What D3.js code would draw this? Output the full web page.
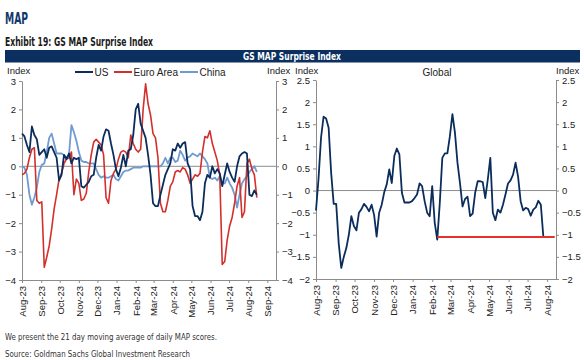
<!DOCTYPE html>
<html><head><meta charset="utf-8">
<script src="https://cdn.jsdelivr.net/npm/d3@7"></script>
<style>body{margin:0;background:#fff}svg{display:block}</style>
</head><body>
<svg id="c" width="584" height="360"></svg>
<script>
const dates = ["2023-08-01","2023-08-05","2023-08-09","2023-08-13","2023-08-17","2023-08-21","2023-08-25","2023-08-29",
"2023-09-02","2023-09-06","2023-09-10","2023-09-14","2023-09-18","2023-09-22","2023-09-26","2023-09-30",
"2023-10-04","2023-10-08","2023-10-12","2023-10-16","2023-10-20","2023-10-24","2023-10-28",
"2023-11-01","2023-11-05","2023-11-09","2023-11-13","2023-11-17","2023-11-21","2023-11-25","2023-11-29",
"2023-12-03","2023-12-07","2023-12-11","2023-12-15","2023-12-19","2023-12-23","2023-12-27","2023-12-31",
"2024-01-04","2024-01-08","2024-01-12","2024-01-16","2024-01-20","2024-01-24","2024-01-28",
"2024-02-01","2024-02-05","2024-02-09","2024-02-13","2024-02-17","2024-02-21","2024-02-25","2024-02-29",
"2024-03-04","2024-03-08","2024-03-12","2024-03-16","2024-03-20","2024-03-24","2024-03-28",
"2024-04-01","2024-04-05","2024-04-09","2024-04-13","2024-04-17","2024-04-21","2024-04-25","2024-04-29",
"2024-05-03","2024-05-07","2024-05-11","2024-05-15","2024-05-19","2024-05-23","2024-05-27","2024-05-31",
"2024-06-04","2024-06-08","2024-06-12","2024-06-16","2024-06-20","2024-06-24","2024-06-28",
"2024-07-02","2024-07-06","2024-07-10","2024-07-14","2024-07-18","2024-07-22","2024-07-26","2024-07-30",
"2024-08-03","2024-08-07","2024-08-11","2024-08-15"];

const us = [1.15,1.05,0.75,0.5,1.4,1.1,0.95,0.4,0.5,0.6,
0.3,0.65,0.7,0.5,0.3,-0.5,-0.3,0.4,0.25,0.45,
0.1,0.3,0.25,0.3,-0.7,-0.75,-0.65,-0.55,-0.35,-0.3,
0.3,0.75,0.55,1.05,1.3,1.25,0.8,0.4,-0.1,-0.35,
-0.05,0.4,0.0,0.55,0.6,1.1,2.0,2.2,1.5,1.25,
1.0,0.4,-0.3,-1.3,-1.4,-1.4,-1.0,-0.65,-0.3,-0.1,
0.1,0.6,0.55,0.8,0.65,0.8,0.85,0.1,-0.1,-1.4,
-1.75,-1.75,-1.9,-1.6,-0.6,-0.3,-0.4,0.0,-0.25,-0.1,
-0.25,-0.7,-0.3,0.1,-0.2,-0.4,-0.55,0.0,0.35,0.45,
0.5,0.45,-1.0,-1.05,-0.85,-1.0];

const euroArea = [-0.3,-0.25,-0.1,0.3,0.6,0.65,-1.2,-1.3,-1.25,-3.55,
-3.2,-2.8,-2.2,-1.5,-1.0,-0.45,-0.25,0.1,0.25,0.3,
0.5,-1.0,-0.45,-0.6,-1.2,-1.15,-0.95,-0.2,0.4,0.85,
0.95,0.85,0.75,0.4,-1.1,-1.3,-0.5,-0.25,-0.1,0.25,
0.5,0.55,0.5,0.3,1.1,0.8,0.6,0.5,0.6,2.0,
2.9,2.2,1.8,1.15,1.0,0.3,-1.3,-1.6,-1.6,-1.2,
-0.7,-0.55,-0.2,-0.15,-0.2,-0.05,-0.1,-0.3,-0.6,-0.45,
-0.3,-0.35,-0.25,0.5,1.05,1.0,1.25,0.8,0.5,0.2,
-0.3,-3.45,-3.35,-2.6,-2.1,-1.8,-1.3,-0.7,-0.4,-1.8,
-1.6,0.1,0.25,-0.1,-0.3,-1.1];

const china = [0.0,-0.05,-0.3,-1.0,-1.35,-1.1,-0.75,-0.2,0.05,0.1,
0.5,1.0,1.15,0.8,0.45,0.45,0.45,0.4,0.3,0.4,
1.45,1.2,0.9,0.5,0.2,0.15,0.15,0.1,0.1,0.1,
-0.1,-0.3,-0.4,-0.35,-0.4,-0.4,-0.35,-0.3,-0.45,-0.5,
-0.35,-0.2,-0.15,-0.15,-0.1,-0.05,-0.05,-0.05,-0.05,0.0,
0.0,0.0,0.0,0.0,0.0,0.0,0.0,0.1,0.3,0.1,
0.3,0.3,0.15,0.2,0.55,0.4,0.2,0.3,0.35,0.45,
0.4,0.35,0.45,0.35,0.25,0.1,-0.4,-0.45,-0.4,-0.5,
-0.35,-0.6,-0.6,-0.4,-0.6,-0.75,-1.0,-1.45,-1.0,-0.6,
-0.45,-0.35,-0.2,-0.1,0.0,-0.2];

const global = [-0.45,0.27,1.2,1.67,1.63,1.42,0.4,-0.3,-0.3,-1.2,
-1.75,-1.5,-1.3,-1.0,-0.58,-0.8,-0.9,-0.5,-0.42,-0.3,
-0.37,-0.47,-0.32,-0.55,-1.04,-0.5,-0.32,-0.04,0.14,0.48,
0.17,0.78,0.95,0.82,-0.05,-0.27,-0.27,-0.27,-0.24,-0.17,
-0.09,0.16,0.1,-0.24,-0.5,-0.58,0.1,-0.73,-1.11,-0.28,
0.74,0.84,0.84,1.23,1.73,1.31,0.63,0.17,-0.36,-0.19,
-0.14,-0.58,-0.52,-0.05,0.21,0.21,0.19,-0.17,0.25,0.74,
-0.5,-0.67,-0.43,-0.5,-0.32,-0.09,0.16,0.23,0.36,0.63,
0.31,-0.24,-0.45,-0.39,-0.42,-0.57,-0.43,-0.38,-0.23,-0.32,-1.05];

const thresholdDates = ["2024-02-09","2024-08-13"];
const thresholdValue = -1.05;

const leftTicks = [3,2,1,0,-1,-2,-3,-4];
const rightTicks = [2.5,2,1.5,1,0.5,0,-0.5,-1,-1.5,-2];
const legendNames = ["US","Euro Area","China"];

const NAVY = "#0b2d5c", RED = "#d3302c", LBLUE = "#6f9bd1", AXIS = "#8c8c8c";
const parse = d3.timeParse("%Y-%m-%d");
const fmt = d3.timeFormat("%b-%y");
const svg = d3.select("#c");
const NARROW = "'Liberation Sans Narrow','DejaVu Sans Condensed','Liberation Sans',sans-serif";
const SANS = "'Liberation Sans',Arial,sans-serif";

svg.append("rect").attr("width",584).attr("height",360).attr("fill","#fff");

// Headers
svg.append("text").attr("x",5).attr("y",24).text("MAP")
  .attr("font-family",NARROW).attr("font-weight","bold").attr("font-size",15).attr("fill","#12386b")
  .attr("textLength",23).attr("lengthAdjust","spacingAndGlyphs");
svg.append("text").attr("x",5).attr("y",46).text("Exhibit 19: GS MAP Surprise Index")
  .attr("font-family",NARROW).attr("font-weight","bold").attr("font-size",11.5).attr("fill","#1a1a1a")
  .attr("textLength",148).attr("lengthAdjust","spacingAndGlyphs");
svg.append("rect").attr("x",5).attr("y",50).attr("width",575).attr("height",12.5).attr("fill","#0b2f5f");
svg.append("text").attr("x",292).attr("y",59.8).attr("text-anchor","middle").text("GS MAP Surprise Index")
  .attr("font-family",NARROW).attr("font-weight","bold").attr("font-size",10.5).attr("fill","#fff")
  .attr("textLength",98).attr("lengthAdjust","spacingAndGlyphs");

// Footer
svg.append("text").attr("x",5).attr("y",340).text("We present the 21 day moving average of daily MAP scores.")
  .attr("font-family",NARROW).attr("font-size",9.5).attr("fill","#333")
  .attr("textLength",212).attr("lengthAdjust","spacingAndGlyphs");
svg.append("text").attr("x",5).attr("y",357).text("Source: Goldman Sachs Global Investment Research")
  .attr("font-family",NARROW).attr("font-size",9.5).attr("fill","#333")
  .attr("textLength",185).attr("lengthAdjust","spacingAndGlyphs");

function panel(opts){
  const {x0,x1,yTop,yBot,xDomain,yDomain,ticks,tickFmt,idxL,idxR} = opts;
  const x = d3.scaleTime().domain(xDomain).range([x0,x1]);
  const y = d3.scaleLinear().domain(yDomain).range([yBot,yTop]);
  const g = svg.append("g");
  g.append("line").attr("x1",x0).attr("x2",x1).attr("y1",y(0)).attr("y2",y(0))
    .attr("stroke",AXIS).attr("stroke-width",1);
  const ax = (sel)=>{sel.select(".domain").attr("stroke",AXIS);
    sel.selectAll(".tick line").attr("stroke",AXIS);
    sel.selectAll("text").attr("font-family",SANS).attr("font-size",9.5).attr("fill","#222");};
  g.append("g").attr("transform",`translate(${x0},0)`)
    .call(d3.axisLeft(y).tickValues(ticks).tickSize(3).tickSizeOuter(0).tickPadding(3).tickFormat(tickFmt)).call(ax);
  g.append("g").attr("transform",`translate(${x1},0)`)
    .call(d3.axisRight(y).tickValues(ticks).tickSize(3).tickSizeOuter(0).tickPadding(3).tickFormat(tickFmt)).call(ax);
  const months = d3.timeMonth.range(xDomain[0], d3.timeDay.offset(xDomain[1],1));
  const xa = g.append("g").attr("transform",`translate(0,${yBot})`)
    .call(d3.axisBottom(x).tickValues(months).tickSize(3).tickSizeOuter(0).tickFormat(fmt)).call(ax);
  xa.selectAll(".tick text").attr("transform","rotate(-90)").attr("text-anchor","end")
    .attr("x",-6).attr("y",0).attr("dy","0.35em");
  g.append("text").attr("x",idxL).attr("y",74).text("Index")
    .attr("font-family",SANS).attr("font-size",9.5).attr("fill","#222");
  g.append("text").attr("x",idxR).attr("y",74).text("Index")
    .attr("font-family",SANS).attr("font-size",9.5).attr("fill","#222");
  return {x,y,g};
}

// Left panel
const L = panel({x0:22,x1:276,yTop:81,yBot:280,idxL:7,idxR:267,
  xDomain:[parse("2023-08-01"),parse("2024-09-15")],yDomain:[-4,3],ticks:leftTicks,tickFmt:d3.format("d")});
const lineL = (vals)=>d3.line().x((d,i)=>L.x(parse(dates[i]))).y(d=>L.y(d))(vals);
L.g.append("path").attr("d",lineL(china)).attr("fill","none").attr("stroke",LBLUE).attr("stroke-width",1.8).attr("stroke-linejoin","round");
L.g.append("path").attr("d",lineL(euroArea)).attr("fill","none").attr("stroke",RED).attr("stroke-width",1.6).attr("stroke-linejoin","round");
L.g.append("path").attr("d",lineL(us)).attr("fill","none").attr("stroke",NAVY).attr("stroke-width",1.8).attr("stroke-linejoin","round");

// Legend
const legX = [75,114,180];
const legCol = [NAVY,RED,LBLUE];
legendNames.forEach((n,i)=>{
  svg.append("line").attr("x1",legX[i]).attr("x2",legX[i]+18).attr("y1",72).attr("y2",72)
    .attr("stroke",legCol[i]).attr("stroke-width",2);
  svg.append("text").attr("x",legX[i]+19.5).attr("y",75.5).text(n)
    .attr("font-family",SANS).attr("font-size",10).attr("fill","#222");
});

// Right panel
const R = panel({x0:316,x1:556,yTop:80,yBot:279,idxL:295,idxR:556,
  xDomain:[parse("2023-08-01"),parse("2024-08-15")],yDomain:[-2,2.5],ticks:rightTicks,tickFmt:d3.format("")});
R.g.append("text").attr("x",437).attr("y",76).attr("text-anchor","middle").text("Global")
  .attr("font-family",SANS).attr("font-size",10).attr("fill","#222");
R.g.append("path").attr("d",d3.line().x((d,i)=>R.x(parse(dates[i]))).y(d=>R.y(d))(global))
  .attr("fill","none").attr("stroke",NAVY).attr("stroke-width",1.8).attr("stroke-linejoin","round");
R.g.append("path").attr("d",d3.line().x(d=>R.x(parse(d))).y(()=>R.y(thresholdValue))(thresholdDates))
  .attr("fill","none").attr("stroke","#e8312b").attr("stroke-width",2.2);
</script>
</body></html>
